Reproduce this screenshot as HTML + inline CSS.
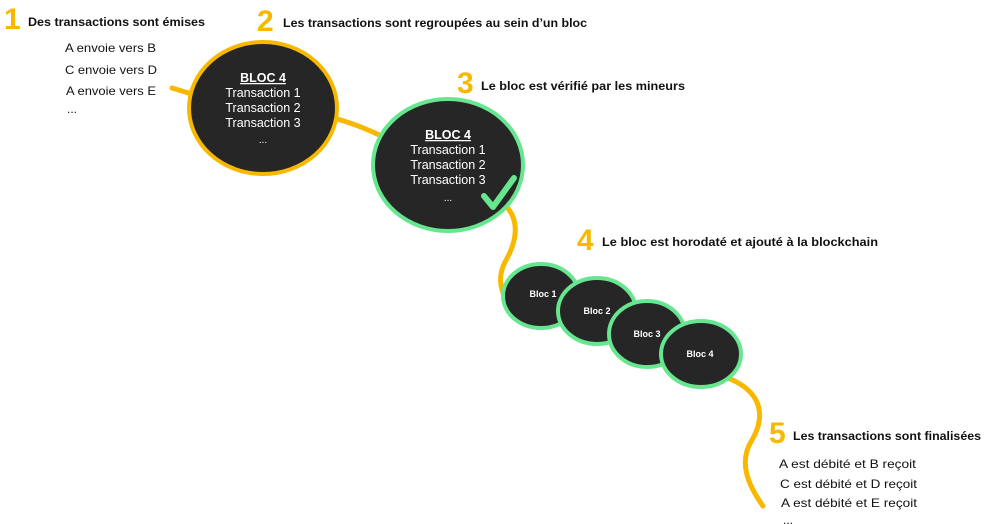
<!DOCTYPE html>
<html><head><meta charset="utf-8"><style>
html,body{margin:0;padding:0;background:#fff;}
svg{display:block;}
text{font-family:"Liberation Sans",sans-serif;}
</style></head><body>
<svg width="984" height="524" viewBox="0 0 984 524" xmlns="http://www.w3.org/2000/svg">
<g fill="none" stroke="#f8b800" stroke-width="5" stroke-linecap="round">
<path d="M172,88 L192,94"/>
<path d="M334,118 C355,124 370,130 385,138"/>
<path d="M505,205 C522,222 515,245 505,262 C498,276 500,288 506,300"/>
<path d="M728,378 C758,390 768,412 752,440 C738,462 748,485 763,506"/>
</g>
<g stroke="#f8b800" stroke-width="4" fill="#262626">
<ellipse cx="263" cy="108" rx="74" ry="66"/>
</g>
<g stroke="#66e68f" stroke-width="4" fill="#262626">
<ellipse cx="448" cy="165" rx="75" ry="66"/>
<ellipse cx="541" cy="296" rx="38" ry="32"/>
<ellipse cx="597" cy="311" rx="39" ry="33"/>
<ellipse cx="647" cy="334" rx="38" ry="33"/>
<ellipse cx="701" cy="354" rx="40" ry="33"/>
</g>
<path d="M484,196 L493,207 L514,178" fill="none" stroke="#66e68f" stroke-width="6" stroke-linecap="round" stroke-linejoin="round"/>
<g fill="#fff" font-size="12.5" text-anchor="middle">
<text x="263" y="82" font-weight="bold" text-decoration="underline">BLOC 4</text>
<text x="263" y="97">Transaction 1</text>
<text x="263" y="112">Transaction 2</text>
<text x="263" y="127">Transaction 3</text>
<text x="263" y="143" font-size="10">...</text>
<text x="448" y="139" font-weight="bold" text-decoration="underline">BLOC 4</text>
<text x="448" y="154">Transaction 1</text>
<text x="448" y="169">Transaction 2</text>
<text x="448" y="184">Transaction 3</text>
<text x="448" y="201" font-size="10">...</text>
<g font-size="9" font-weight="bold">
<text x="543" y="297">Bloc 1</text>
<text x="597" y="314">Bloc 2</text>
<text x="647" y="337">Bloc 3</text>
<text x="700" y="357">Bloc 4</text>
</g>
</g>
<g fill="#f8b800" font-weight="bold" font-size="30">
<text x="4" y="29">1</text>
<text x="257" y="31">2</text>
<text x="457" y="93">3</text>
<text x="577" y="250">4</text>
<text x="769" y="443">5</text>
</g>
<g fill="#111" font-weight="bold" font-size="12">
<text x="28" y="26" textLength="177" lengthAdjust="spacingAndGlyphs">Des transactions sont émises</text>
<text x="283" y="27" textLength="304" lengthAdjust="spacingAndGlyphs">Les transactions sont regroupées au sein d’un bloc</text>
<text x="481" y="90" textLength="204" lengthAdjust="spacingAndGlyphs">Le bloc est vérifié par les mineurs</text>
<text x="602" y="246" textLength="276" lengthAdjust="spacingAndGlyphs">Le bloc est horodaté et ajouté à la blockchain</text>
<text x="793" y="440" textLength="188" lengthAdjust="spacingAndGlyphs">Les transactions sont finalisées</text>
</g>
<g fill="#111" font-size="12">
<text x="65" y="52" textLength="91" lengthAdjust="spacingAndGlyphs">A envoie vers B</text>
<text x="65" y="74" textLength="92" lengthAdjust="spacingAndGlyphs">C envoie vers D</text>
<text x="66" y="95" textLength="90" lengthAdjust="spacingAndGlyphs">A envoie vers E</text>
<text x="67" y="113">...</text>
<text x="779" y="468" textLength="137" lengthAdjust="spacingAndGlyphs">A est débité et B reçoit</text>
<text x="780" y="488" textLength="137" lengthAdjust="spacingAndGlyphs">C est débité et D reçoit</text>
<text x="781" y="507" textLength="136" lengthAdjust="spacingAndGlyphs">A est débité et E reçoit</text>
<text x="783" y="524">...</text>
</g>
</svg>
</body></html>
